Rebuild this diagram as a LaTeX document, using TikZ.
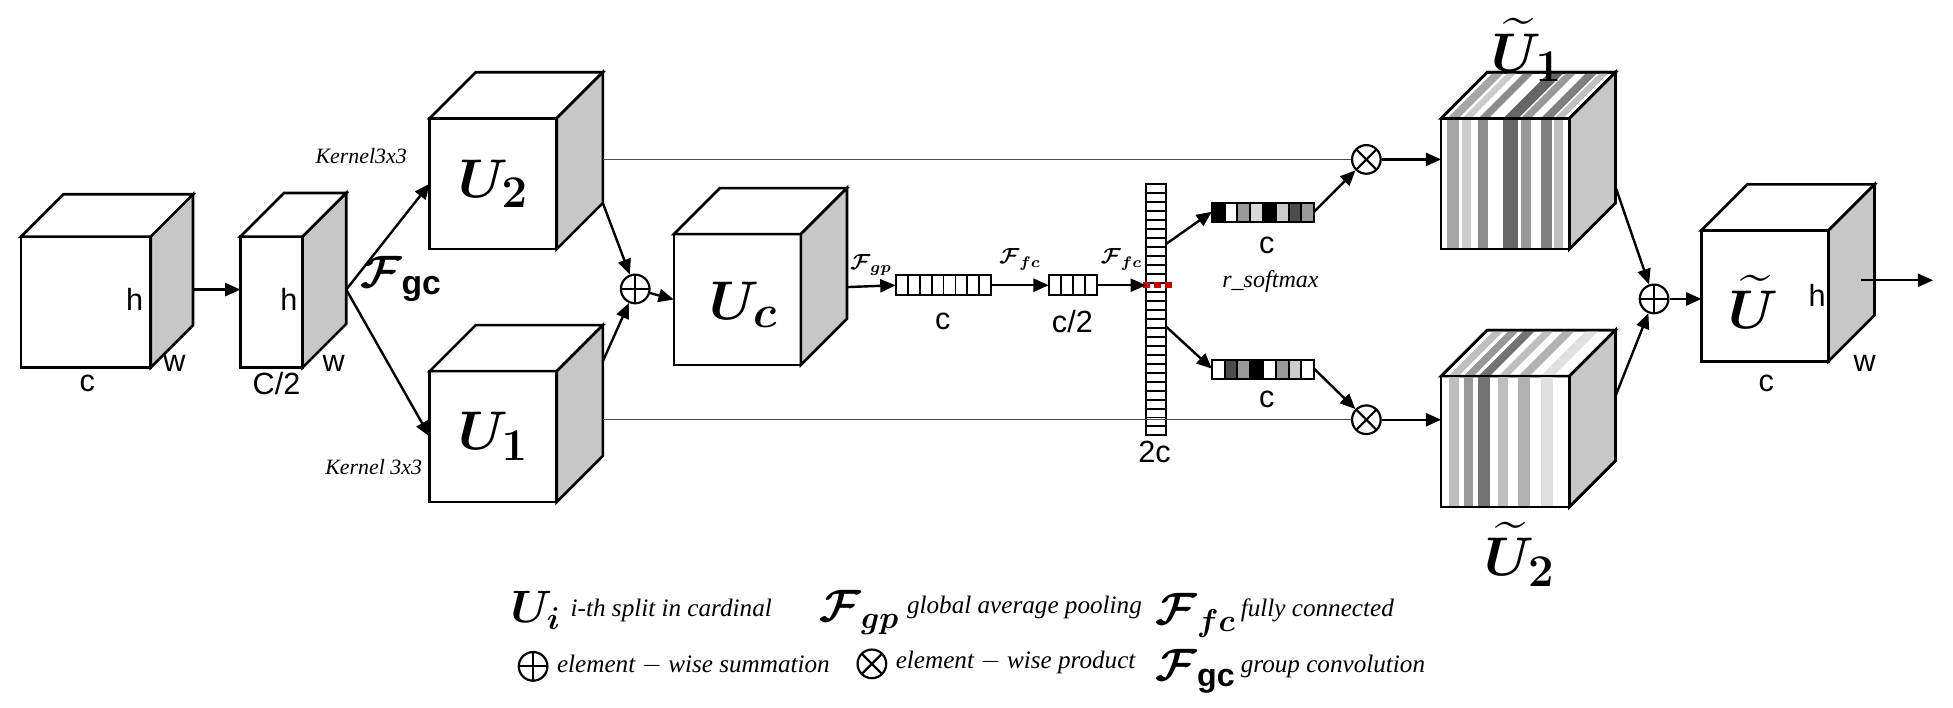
\documentclass[tikz,border=0pt]{standalone}
\usepackage{amsmath,bm}
\usepackage{fontspec}
\setmainfont{Liberation Sans}
\newfontfamily\serif{Liberation Serif}
\usetikzlibrary{arrows.meta}

% cube: name, x, y, width, height, depth
\newcommand{\cube}[6]{%
\filldraw[face] (#2,#3) rectangle ++(#4,#5);
\filldraw[face] (#2,#3) -- ++(#6,-#6) -- ++(#4,0) -- ++(-#6,#6) -- cycle;
\filldraw[side] ({#2+#4},#3) -- ++(#6,-#6) -- ++(0,#5) -- ++(-#6,#6) -- cycle;
\coordinate (#1-w) at (#2,{#3+#5/2});
\coordinate (#1-e) at ({#2+#4+#6},{#3+#5/2-10});
\coordinate (#1-c) at ({#2+#4/2},{#3+#5/2});
}
% stripes: x, y, width, height, depth, list
\newcommand{\stripes}[6]{%
\foreach \o/\s/\g in {#6} {
  \fill[black!\g] ({#1+\o},#2) rectangle ++(\s,#4);
  \fill[black!\g!white] ({#1+\o},#2) -- ++(#5,-#5) -- ++(\s,0) -- ++(-#5,#5) -- cycle;
}
\draw[edge] (#1,#2) rectangle ++(#3,#4);
\draw[edge] (#1,#2) -- ++(#5,-#5) -- ++(#3,0) -- ++(-#5,#5);
\draw[edge] ({#1+#3+#5},{#2-#5}) -- ++(0,#4) -- ++(-#5,#5);
}

\begin{document}
\begin{tikzpicture}[x=0.02cm,y=-0.02cm,
  face/.style={fill=white,draw=black,line width=1.2pt},
  side/.style={fill=black!22,draw=black,line width=1.2pt},
  edge/.style={draw=black,line width=1.2pt},
  arr/.style={-{Triangle[length=7pt,width=6pt]},line width=1.1pt},
  thinline/.style={draw=black!70,line width=0.6pt},
  lbl/.style={font=\fontsize{14}{16}\selectfont},
  big/.style={font=\fontsize{28}{30}\selectfont},
  kern/.style={font=\serif\itshape\fontsize{10}{12}\selectfont},
  legend/.style={anchor=west,font=\serif\itshape\fontsize{11.5}{13}\selectfont},
  op/.style={circle,draw,line width=1pt,minimum size=0.46cm,inner sep=0pt},
  oplus/.style={op,path picture={\draw[line width=1pt] (path picture bounding box.north)--(path picture bounding box.south) (path picture bounding box.west)--(path picture bounding box.east);}},
  otimes/.style={op,path picture={\draw[line width=1pt] (path picture bounding box.north west)--(path picture bounding box.south east) (path picture bounding box.north east)--(path picture bounding box.south west);}},
  cell/.style={draw=black,line width=0.9pt}]
\useasboundingbox (0,0) rectangle (1568,568);

% input cubes
\cube{inp}{17}{190}{104}{105}{34}
\node[lbl] (inp-h) at (108,240) {h};
\node[lbl] (inp-wl) at (140,292) {w};
\node[lbl] (inp-cl) at (70,308) {c};
\cube{half}{193}{190}{50}{105}{35}
\node[lbl] (half-h) at (232,240) {h};
\node[lbl] (half-wl) at (268,292) {w};
\node[lbl] (half-cl) at (222,308) {C/2};
\draw[arr] (inp-e) -- (half-e -| half-w);
\node (fgc) at (322,224) {\fontsize{22}{24}\selectfont$\bm{\mathcal{F}}_{\mathbf{gc}}$};

% split branches
\cube{u2}{345}{95}{102}{105}{37}
\node[big] (u2-l) at (u2-c) {$\bm{U_2}$};
\cube{u1}{345}{298}{102}{105}{37}
\node[big] (u1-l) at (u1-c) {$\bm{U_1}$};
\node[kern] (k2) at (290,125) {Kernel3x3};
\node[kern] (k1) at (300,375) {Kernel 3x3};
\draw[arr] (half-e) -- (u2-w);
\draw[arr] (half-e) -- (u1-w);

\node[oplus] (sum1) at (510,232) {};
\coordinate (u2-out) at (484,163);
\coordinate (u1-out) at (484,290);
\draw[arr] (u2-out) -- (sum1);
\draw[arr] (u1-out) -- (sum1);

\cube{uc}{541}{188}{102}{105}{37}
\node[big] (uc-l) at (597,245) {$\bm{U_c}$};
\draw[arr] (sum1) -- (uc-w);

% fully connected vectors
\foreach \i in {0,...,7} \draw[cell] ({719+\i*9.625},221) rectangle ++(9.625,16);
\coordinate (vc-w) at (719,229);
\coordinate (vc-e) at (796,229);
\node[lbl] (vc-l) at (757,258) {c};
\foreach \i in {0,...,3} \draw[cell] ({842+\i*9.75},221) rectangle ++(9.75,16);
\coordinate (vh-w) at (842,229);
\coordinate (vh-e) at (881,229);
\node[lbl] (vh-l) at (861,258) {c/2};
\foreach \i in {0,...,27} \draw[cell] (920,{148+\i*7.2}) rectangle ++(16,7.2);
\coordinate (vz-w) at (920,229);
\node[lbl] (vz-l) at (927,363) {2c};
\draw[red!80!black,line width=2.5pt,dash pattern=on 3pt off 2pt] (918,229) -- (941,229);
\draw[arr] (uc-e) -- (vc-w) node[midway,above=1pt,font=\fontsize{10}{12}\selectfont] {$\bm{\mathcal{F}}_{\bm{gp}}$};
\draw[arr] (vc-e) -- (vh-w) node[midway,above=3pt,font=\fontsize{10}{12}\selectfont] {$\bm{\mathcal{F}}_{\bm{fc}}$};
\draw[arr] (vh-e) -- (vz-w) node[midway,above=3pt,font=\fontsize{10}{12}\selectfont] {$\bm{\mathcal{F}}_{\bm{fc}}$};

% attention vectors
\foreach \g [count=\i from 0] in {100,0,40,15,100,20,70,40}
  \filldraw[cell,fill=black!\g] ({973+\i*10.25},163) rectangle ++(10.25,15);
\foreach \g [count=\i from 0] in {0,70,40,100,0,40,20,0}
  \filldraw[cell,fill=black!\g] ({973+\i*10.25},289) rectangle ++(10.25,15);
\coordinate (a1-w) at (973,170);
\coordinate (a1-e) at (1055,170);
\coordinate (a2-w) at (973,296);
\coordinate (a2-e) at (1055,296);
\node[lbl] (a1-l) at (1017,197) {c};
\node[lbl] (a2-l) at (1017,321) {c};
\node[font=\serif\itshape\fontsize{11}{13}\selectfont] (soft) at (1020,226) {r\_softmax};
\coordinate (vz-a) at (936,196);
\coordinate (vz-b) at (936,262);
\draw[arr] (vz-a) -- (a1-w);
\draw[arr] (vz-b) -- (a2-w);

\node[otimes] (prod1) at (1097,128) {};
\node[otimes] (prod2) at (1097,337) {};
\coordinate (u2-line) at (484,128);
\coordinate (u1-line) at (484,337);
\draw[thinline] (u2-line) -- (prod1);
\draw[thinline] (u1-line) -- (prod2);
\draw[arr] (a1-e) -- (prod1);
\draw[arr] (a2-e) -- (prod2);

% weighted cubes
\cube{t1}{1157}{95}{103}{105}{37}
\stripes{1157}{95}{103}{105}{37}{5/9/35,17/7/20,30/8/45,50/12/60,64/8/40,80/9/50,91/7/25}
\cube{t2}{1157}{302}{103}{105}{37}
\stripes{1157}{302}{103}{105}{37}{6/8/25,18/8/40,30/9/55,46/8/25,62/9/30,80/10/12}
\node[big] (t1-l) at (1226,40) {$\bm{\widetilde{U}_1}$};
\node[big] (t2-l) at (1220,445) {$\bm{\widetilde{U}_2}$};
\coordinate (prod1-e) at (1157,128);
\coordinate (prod2-e) at (1157,337);
\draw[arr] (prod1) -- (prod1-e);
\draw[arr] (prod2) -- (prod2-e);

% output
\node[oplus] (sum2) at (1328,240) {};
\coordinate (t1-out) at (1297,150);
\coordinate (t2-out) at (1297,318);
\draw[arr] (t1-out) -- (sum2);
\draw[arr] (t2-out) -- (sum2);
\cube{out}{1366}{185}{102}{105}{37}
\node[big] (out-l) at (1408,242) {$\bm{\widetilde{U}}$};
\node[lbl] (out-h) at (1459,237) {h};
\node[lbl] (out-wl) at (1497,292) {w};
\node[lbl] (out-cl) at (1418,308) {c};
\draw[arr] (sum2) -- (out-w |- sum2);
\coordinate (out-end) at (1552,225);
\coordinate (out-start) at (1494,225);
\draw[arr] (out-start) -- (out-end);

% legend
\node[font=\fontsize{21}{23}\selectfont] (lg-u) at (430,490) {$\bm{U_i}$};
\node[legend] (lg-ut) at (452,490) {i-th split in cardinal};
\node[font=\fontsize{21}{23}\selectfont] (lg-gp) at (690,492) {$\bm{\mathcal{F}}_{\bm{gp}}$};
\node[legend] (lg-gpt) at (722,488) {global average pooling};
\node[font=\fontsize{21}{23}\selectfont] (lg-fc) at (960,494) {$\bm{\mathcal{F}}_{\bm{fc}}$};
\node[legend] (lg-fct) at (990,490) {fully connected};
\node[oplus] (lg-sum) at (428,535) {};
\node[legend] (lg-sumt) at (441,534) {element $-$ wise summation};
\node[otimes] (lg-prod) at (700,533) {};
\node[legend] (lg-prodt) at (713,532) {element $-$ wise product};
\node[font=\fontsize{21}{23}\selectfont] (lg-gc) at (960,539) {$\bm{\mathcal{F}}_{\mathbf{gc}}$};
\node[legend] (lg-gct) at (990,535) {group convolution};
\end{tikzpicture}
\end{document}
